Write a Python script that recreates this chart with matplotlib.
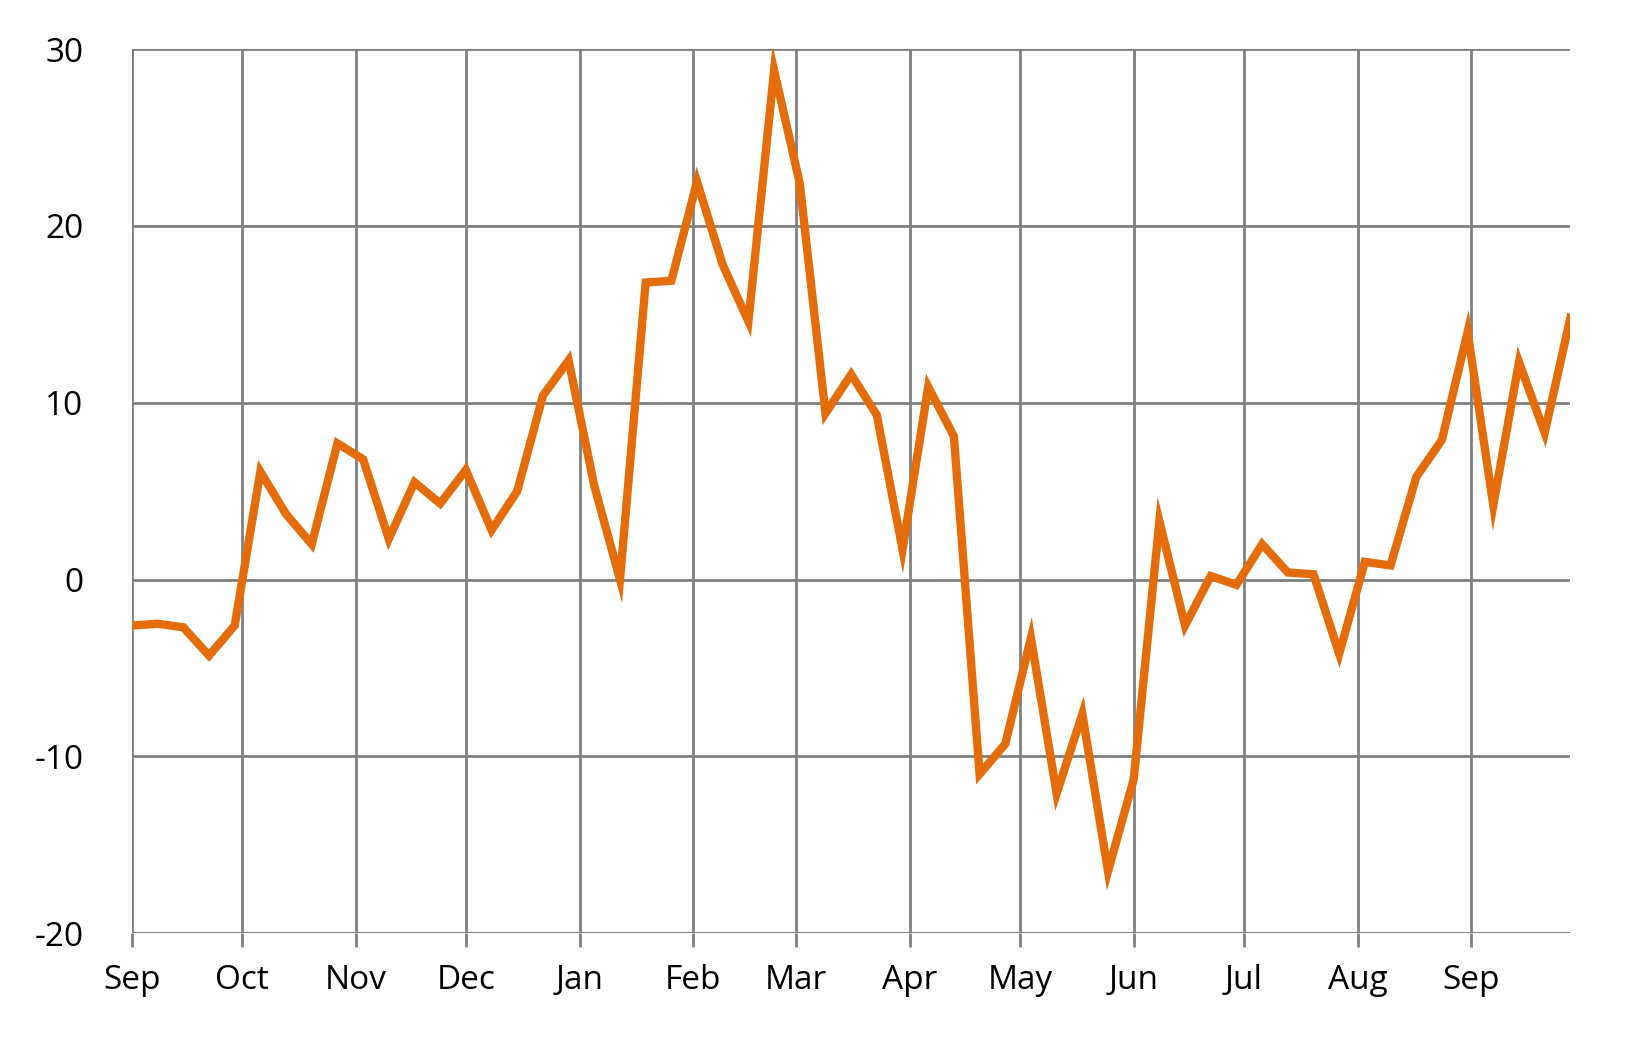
import matplotlib
matplotlib.use("Agg")
import matplotlib.pyplot as plt
import numpy as np

# weekly values, starting 2018-09-01
start_date = np.datetime64("2018-09-01")
values = [-2.6, -2.5, -2.7, -4.3, -2.6, 6.1, 3.7, 2.0, 7.7, 6.8,
          2.3, 5.5, 4.3, 6.2, 2.8, 5.0, 10.4, 12.4, 5.3, 0.0,
          16.8, 16.9, 22.5, 17.8, 14.6, 28.8, 22.4, 9.4, 11.6, 9.3,
          1.7, 10.9, 8.1, -11.0, -9.3, -3.3, -12.1, -7.6, -16.5, -11.3,
          3.3, -2.6, 0.2, -0.3, 2.0, 0.4, 0.3, -4.2, 1.0, 0.8,
          5.8, 7.9, 14.0, 4.2, 12.3, 8.3, 14.8]
dates = start_date + np.arange(len(values)) * np.timedelta64(7, "D")
month_labels = ["Sep", "Oct", "Nov", "Dec", "Jan", "Feb", "Mar",
                "Apr", "May", "Jun", "Jul", "Aug", "Sep"]
month_ticks = np.array(["2018-09-01", "2018-10-01", "2018-11-01", "2018-12-01",
                        "2019-01-01", "2019-02-01", "2019-03-01", "2019-04-01",
                        "2019-05-01", "2019-06-01", "2019-07-01", "2019-08-01",
                        "2019-09-01"], dtype="datetime64[D]")

plt.rcParams["font.family"] = ["Open Sans", "DejaVu Sans"]
plt.rcParams["axes.unicode_minus"] = False
fig, ax = plt.subplots(figsize=(16.29, 10.45), dpi=100)
fig.subplots_adjust(left=0.081, right=0.964, top=0.953, bottom=0.107)

ax.plot(dates.astype("datetime64[D]").astype(object), values, color="#E46C0A", lw=6,
        solid_joinstyle="miter", zorder=3)

ax.set_ylim(-20, 30)
ax.set_yticks([-20, -10, 0, 10, 20, 30])
ax.set_xlim(dates[0].astype(object), dates[-1].astype(object))
ax.set_xticks(month_ticks.astype(object))
ax.set_xticklabels(month_labels)
ax.grid(True, color="#808080", lw=2)
for s in ax.spines.values():
    s.set_visible(False)
ax.axhline(-20, color="#808080", lw=2)
ax.tick_params(axis="x", length=10, width=2, color="#808080", labelsize=24, pad=12)
ax.tick_params(axis="y", length=0, labelsize=24, pad=35)

fig.savefig("out.png")
